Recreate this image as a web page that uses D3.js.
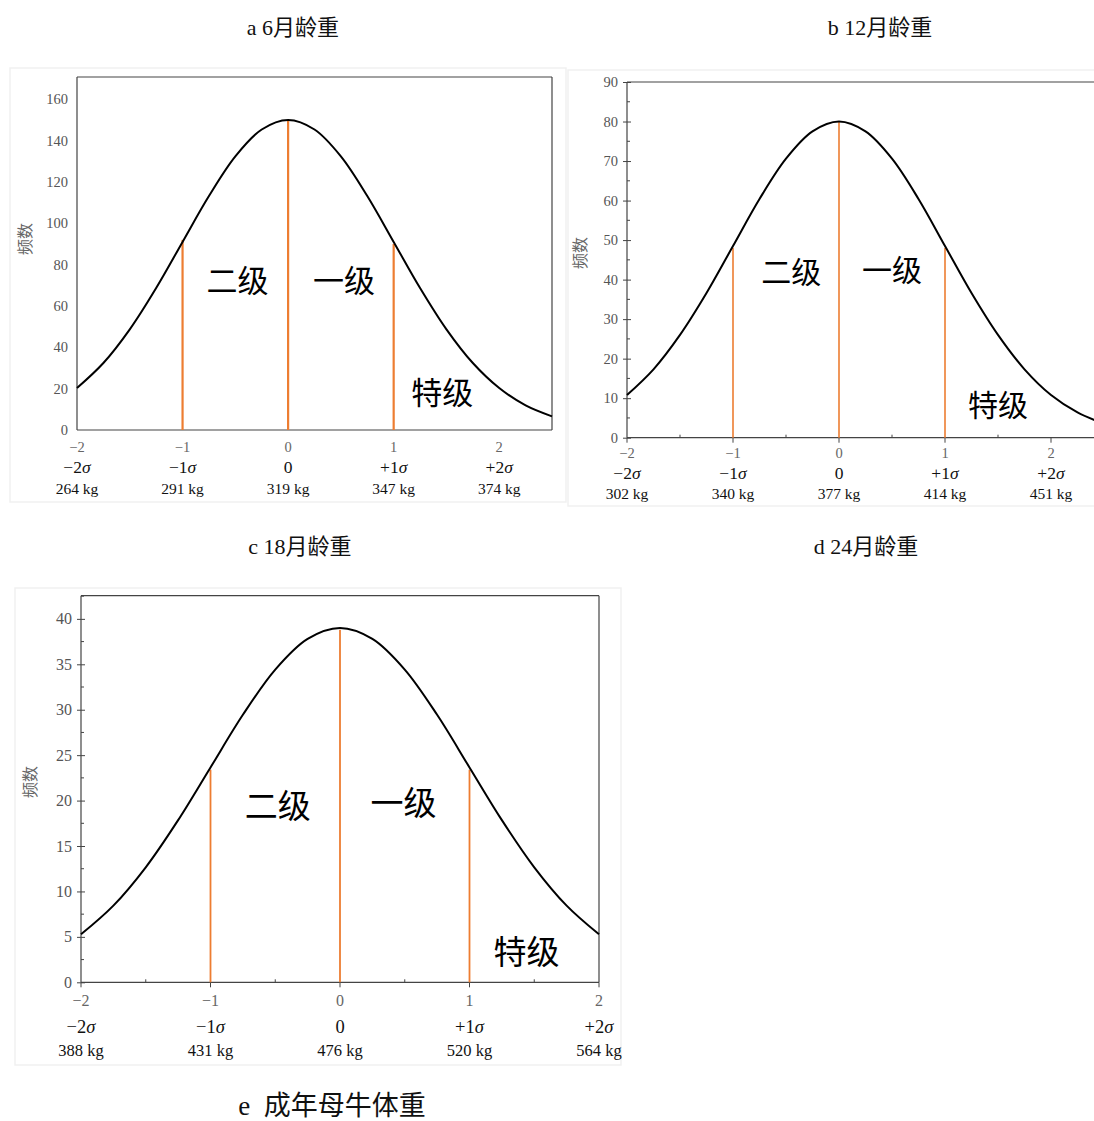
<!DOCTYPE html>
<html>
<head>
<meta charset="utf-8">
<script src="https://cdn.jsdelivr.net/npm/d3@7/dist/d3.min.js"></script>
<style>
  html, body { margin: 0; padding: 0; background: #fff; }
  svg { display: block; }
</style>
</head>
<body>
<svg id="chart" width="1094" height="1121"></svg>
<script>
// ---------------- DATA ----------------
const panelTitles = ["a 6月龄重", "b 12月龄重", "c 18月龄重", "d 24月龄重", "e  成年母牛体重"];
const yAxisTitle = "频数";
const gradeLabels = ["二级", "一级", "特级"];
const xTickValues = [-2, -1, 0, 1, 2];
const xTickText = ["−2", "−1", "0", "1", "2"];
const sigmaLabels = [["−2", "σ"], ["−1", "σ"], ["0", ""], ["+1", "σ"], ["+2", "σ"]];
const gradeLineX = [-1, 0, 1];

// panel a : 6 month weight
const kgA = ["264 kg", "291 kg", "319 kg", "347 kg", "374 kg"];
const yTicksA = [0, 20, 40, 60, 80, 100, 120, 140, 160];
const curveXA = [-2, -1.75, -1.5, -1.25, -1, -0.75, -0.5, -0.25, 0, 0.25, 0.5, 0.75, 1, 1.25, 1.5, 1.75, 2, 2.25, 2.5];
const curveYA = [20.3, 32.4, 48.7, 68.7, 91.0, 113.2, 132.4, 145.4, 150, 145.4, 132.4, 113.2, 91.0, 68.7, 48.7, 32.4, 20.3, 11.9, 6.6];
const gradeLineTopA = [92, 150, 90];

// panel b : 12 month weight
const kgB = ["302 kg", "340 kg", "377 kg", "414 kg", "451 kg"];
const yTicksB = [0, 10, 20, 30, 40, 50, 60, 70, 80, 90];
const curveXB = [-2, -1.75, -1.5, -1.25, -1, -0.75, -0.5, -0.25, 0, 0.25, 0.5, 0.75, 1, 1.25, 1.5, 1.75, 2, 2.25, 2.5];
const curveYB = [10.8, 17.3, 26.0, 36.6, 48.5, 60.4, 70.6, 77.5, 80, 77.5, 70.6, 60.4, 48.5, 36.6, 26.0, 17.3, 10.8, 6.4, 3.5];
const gradeLineTopB = [48, 80, 48];

// panel e : adult cow weight
const kgE = ["388 kg", "431 kg", "476 kg", "520 kg", "564 kg"];
const yTicksE = [0, 5, 10, 15, 20, 25, 30, 35, 40];
const curveXE = [-2, -1.75, -1.5, -1.25, -1, -0.75, -0.5, -0.25, 0, 0.25, 0.5, 0.75, 1, 1.25, 1.5, 1.75, 2];
const curveYE = [5.28, 8.44, 12.66, 17.85, 23.65, 29.44, 34.42, 37.80, 39, 37.80, 34.42, 29.44, 23.65, 17.85, 12.66, 8.44, 5.28];
const gradeLineTopE = [23.4, 38.8, 23.4];

// ---------------- LAYOUT ----------------
const svg = d3.select("#chart");
const SERIF = "'Liberation Serif', 'Times New Roman', 'Noto Sans CJK SC', serif";
const CJK = "'Noto Sans CJK SC', sans-serif";
const ORANGE = "#ED7D31";

const panels = [
  {
    frame: [10, 68, 556, 434],
    left: 77, top: 77, right: 552, bottom: 430,
    xDomain: [-2, 2.5], yDomain: [0, 170.8],
    yTicks: yTicksA, minorY: null, tickMarks: false,
    curveX: curveXA, curveY: curveYA, gradeTop: gradeLineTopA, kg: kgA,
    gradePos: [[-0.48, 73.5], [0.53, 73.5], [1.46, 18.9]], gradeSize: 31,
    tickFont: 14.5, sigFont: 17.5, rowFont: 15.5, rows: [17, 37, 58],
    yTitle: [24, 239], lineW: 2.2, rightFrame: true
  },
  {
    frame: [568, 70, 540, 436],
    left: 627, top: 82, right: 1104, bottom: 437.7,
    xDomain: [-2, 2.5], yDomain: [0, 90],
    yTicks: yTicksB, minorY: 5, tickMarks: true,
    curveX: curveXB, curveY: curveYB, gradeTop: gradeLineTopB, kg: kgB,
    gradePos: [[-0.45, 42.5], [0.5, 43], [1.5, 8.8]], gradeSize: 30,
    tickFont: 14.5, sigFont: 17.5, rowFont: 15.5, rows: [15.5, 35.5, 56],
    yTitle: [579, 253], lineW: 1.6, rightFrame: false
  },
  {
    frame: [15, 588, 606, 477],
    left: 81, top: 595.7, right: 599, bottom: 982.3,
    xDomain: [-2, 2], yDomain: [0, 42.55],
    yTicks: yTicksE, minorY: 2.5, tickMarks: true,
    curveX: curveXE, curveY: curveYE, gradeTop: gradeLineTopE, kg: kgE,
    gradePos: [[-0.48, 19.6], [0.49, 19.9], [1.44, 3.5]], gradeSize: 33,
    tickFont: 16, sigFont: 18.5, rowFont: 16.5, rows: [18, 44.5, 68],
    yTitle: [29, 782], lineW: 1.8, rightFrame: true
  }
];

// titles
const titlePos = [[293, 27, 22], [880, 27, 22], [300, 546, 22], [866, 546, 22], [332, 1106, 27]];
panelTitles.forEach((t, i) => {
  svg.append("text")
    .attr("x", titlePos[i][0]).attr("y", titlePos[i][1])
    .attr("text-anchor", "middle").attr("dominant-baseline", "central")
    .attr("font-family", SERIF).attr("font-size", titlePos[i][2]).attr("fill", "#111")
    .attr("xml:space", "preserve").style("white-space", "pre")
    .text(t);
});

panels.forEach(p => {
  // faint image frame
  svg.append("rect")
    .attr("x", p.frame[0]).attr("y", p.frame[1])
    .attr("width", p.frame[2]).attr("height", p.frame[3])
    .attr("fill", "none").attr("stroke", "#f1f1f1").attr("stroke-width", 1.5);

  const x = d3.scaleLinear().domain(p.xDomain).range([p.left, p.right]);
  const y = d3.scaleLinear().domain(p.yDomain).range([p.bottom, p.top]);
  const g = svg.append("g");
  const axisColor = "#444";

  // frame
  const fr = g.append("g").attr("stroke", axisColor).attr("stroke-width", 1.2).attr("fill", "none");
  fr.append("line").attr("x1", p.left).attr("x2", p.left).attr("y1", p.top).attr("y2", p.bottom);
  fr.append("line").attr("x1", p.left).attr("x2", p.right).attr("y1", p.bottom).attr("y2", p.bottom);
  fr.append("line").attr("x1", p.left).attr("x2", p.right).attr("y1", p.top).attr("y2", p.top);
  if (p.rightFrame) fr.append("line").attr("x1", p.right).attr("x2", p.right).attr("y1", p.top).attr("y2", p.bottom);

  // y axis labels
  const yAxis = d3.axisLeft(y).tickValues(p.yTicks).tickSizeInner(p.tickMarks ? 4 : 0).tickSizeOuter(0)
    .tickPadding(p.tickMarks ? 5 : 9).tickFormat(d3.format("d"));
  const ya = g.append("g").attr("transform", `translate(${p.left},0)`).call(yAxis);
  ya.select(".domain").remove();
  ya.selectAll("text").attr("font-family", SERIF).attr("font-size", p.tickFont).attr("fill", "#555");
  ya.selectAll("line").attr("stroke", axisColor).attr("x2", p.tickMarks ? -4 : 0).attr("x1", p.tickMarks ? 4 : 0);

  if (p.tickMarks) {
    const minors = d3.range(p.yDomain[0] + p.minorY, p.yDomain[1], p.minorY * 2);
    g.selectAll(null).data(minors).enter().append("line")
      .attr("x1", p.left).attr("x2", p.left + 3)
      .attr("y1", d => y(d)).attr("y2", d => y(d))
      .attr("stroke", axisColor).attr("stroke-width", 1);
    g.selectAll(null).data(xTickValues).enter().append("line")
      .attr("x1", d => x(d)).attr("x2", d => x(d))
      .attr("y1", p.bottom).attr("y2", p.bottom + 5)
      .attr("stroke", axisColor).attr("stroke-width", 1);
    g.selectAll(null).data([-1.5, -0.5, 0.5, 1.5]).enter().append("line")
      .attr("x1", d => x(d)).attr("x2", d => x(d))
      .attr("y1", p.bottom).attr("y2", p.bottom - 3)
      .attr("stroke", axisColor).attr("stroke-width", 1);
  }

  // x tick label rows
  g.selectAll(null).data(xTickValues).enter().append("text")
    .attr("x", d => x(d)).attr("y", p.bottom + p.rows[0])
    .attr("text-anchor", "middle").attr("dominant-baseline", "central")
    .attr("font-family", SERIF).attr("font-size", p.tickFont).attr("fill", "#666")
    .text((d, i) => xTickText[i]);

  const sig = g.selectAll(null).data(xTickValues).enter().append("text")
    .attr("x", d => x(d)).attr("y", p.bottom + p.rows[1])
    .attr("text-anchor", "middle").attr("dominant-baseline", "central")
    .attr("font-family", SERIF).attr("font-size", p.sigFont).attr("fill", "#111");
  sig.append("tspan").text((d, i) => sigmaLabels[i][0]);
  sig.append("tspan").attr("font-style", "italic").text((d, i) => sigmaLabels[i][1]);

  g.selectAll(null).data(xTickValues).enter().append("text")
    .attr("x", d => x(d)).attr("y", p.bottom + p.rows[2])
    .attr("text-anchor", "middle").attr("dominant-baseline", "central")
    .attr("font-family", SERIF).attr("font-size", p.rowFont).attr("fill", "#111")
    .text((d, i) => p.kg[i]);

  // y axis title
  svg.append("text")
    .attr("transform", `translate(${p.yTitle[0]},${p.yTitle[1]}) rotate(-90)`)
    .attr("text-anchor", "middle").attr("dominant-baseline", "central")
    .attr("font-family", CJK).attr("font-size", 16).attr("fill", "#666")
    .text(yAxisTitle);

  // grade lines
  g.selectAll(null).data(gradeLineX).enter().append("line")
    .attr("x1", d => x(d)).attr("x2", d => x(d))
    .attr("y1", p.bottom).attr("y2", (d, i) => y(p.gradeTop[i]))
    .attr("stroke", ORANGE).attr("stroke-width", p.lineW);

  // curve
  const pts = p.curveX.map((v, i) => [v, p.curveY[i]]);
  g.append("path").datum(pts)
    .attr("d", d3.line().x(d => x(d[0])).y(d => y(d[1])).curve(d3.curveCatmullRom.alpha(0.5)))
    .attr("fill", "none").attr("stroke", "#000").attr("stroke-width", 2);

  // grade labels
  g.selectAll(null).data(gradeLabels).enter().append("text")
    .attr("x", (d, i) => x(p.gradePos[i][0])).attr("y", (d, i) => y(p.gradePos[i][1]))
    .attr("text-anchor", "middle").attr("dominant-baseline", "central")
    .attr("font-family", CJK).attr("font-size", p.gradeSize).attr("fill", "#000")
    .text(d => d);
});
</script>
</body>
</html>
